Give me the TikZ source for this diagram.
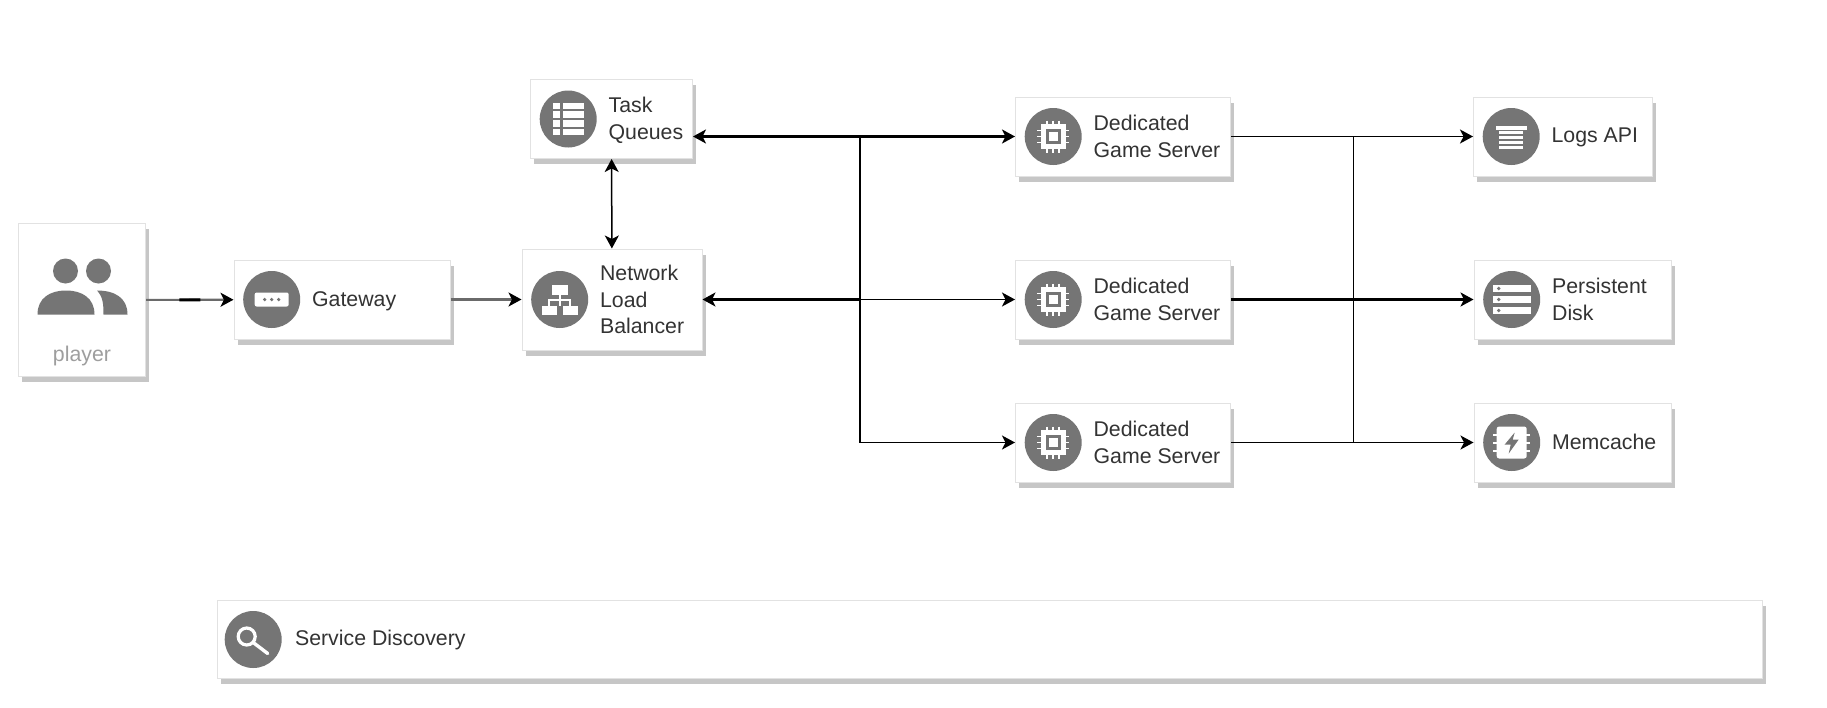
\documentclass[tikz,border=0pt]{standalone}
\usepackage{fontspec}
\setmainfont{Liberation Sans}
\usetikzlibrary{positioning, arrows.meta, shadows}

\definecolor{icongray}{HTML}{757575}
\definecolor{edgegray}{HTML}{E2E2E2}
\definecolor{shadowgray}{HTML}{C6C6C6}
\definecolor{textgray}{HTML}{333333}
\definecolor{playergray}{HTML}{9E9E9E}
\definecolor{linegray}{HTML}{6A6A6A}

\begin{document}
\begin{tikzpicture}[
    x=1pt, y=-1pt,
    box/.style={draw=edgegray, line width=1pt, fill=white, inner sep=0pt,
        drop shadow={shadow xshift=3.5pt, shadow yshift=-5.5pt, fill=shadowgray, opacity=1}},
    icon/.style={circle, fill=icongray, minimum size=57pt, inner sep=0pt},
    lbl/.style={font=\fontsize{21.3}{26.7}\selectfont, text=textgray, align=left, inner sep=0pt},
    wire/.style={line width=1.3pt},
    arrow/.style={-{Stealth[length=13pt, width=14pt, inset=3.5pt]}, line width=1.5pt},
    dblarrow/.style={{Stealth[length=13pt, width=14pt, inset=3.5pt]}-{Stealth[length=13pt, width=14pt, inset=3.5pt]}, line width=1.5pt},
    fat/.style={line width=2.6pt},
    greyline/.style={draw=linegray, -{Stealth[length=13pt, width=14pt, inset=3.5pt, black]}, line width=2.1pt},
    playerpic/.pic={
        \fill[icongray] (-16.5,-29) circle (12.5);
        \fill[icongray] (16.5,-29) circle (12.5);
        \fill[icongray] (-44.5,14.5) .. controls (-44.5,-2) and (-32,-9.5) .. (-16,-9.5)
            .. controls (0,-9.5) and (12.5,-2) .. (12.5,14.5) -- cycle;
        \fill[icongray] (15,-9.5) .. controls (33,-9.5) and (45.5,-2) .. (45.5,14.5)
            -- (21.5,14.5) .. controls (21.5,4) and (21,-3) .. (15,-9.5) -- cycle;
    },
    gatewaypic/.pic={
        \fill[white, rounded corners=2pt] (-17,-7) rectangle (17,7);
        \foreach \x in {-7,0,7} \fill[icongray] (\x,0) circle (1.8);
    },
    lbpic/.pic={
        \fill[white] (-8,-15) rectangle (8,-5);
        \fill[white] (-18,6) rectangle (-3,15);
        \fill[white] (3,6) rectangle (18,15);
        \draw[white, line width=2pt] (0,-5) -- (0,6) (-10.5,6) -- (-10.5,0) -- (10.5,0) -- (10.5,6);
    },
    queuepic/.pic={
        \foreach \y in {-13,-4.5,4.5,13} {
            \fill[white] (-15,\y-3.2) rectangle (-8.5,\y+3.2);
            \fill[white] (-5.5,\y-3.2) rectangle (16,\y+3.2);
        }
    },
    chippic/.pic={
        \foreach \t in {-6,0,6} {
            \draw[white, line width=1.5pt] (\t,-16) -- (\t,16) (-16,\t) -- (16,\t);
        }
        \fill[white] (-12.5,-12.5) rectangle (12.5,12.5);
        \fill[icongray] (-7.5,-7.5) rectangle (7.5,7.5);
        \fill[white] (-4.5,-4.5) rectangle (4.5,4.5);
    },
    logpic/.pic={
        \fill[white] (-15.5,-11) rectangle (15.5,-6.5);
        \foreach \y in {-4.5,0.5,5.5,10.5} \fill[white] (-12,\y-1.5) rectangle (12,\y+1.5);
    },
    diskpic/.pic={
        \foreach \y in {-11,0,11} {
            \fill[white] (-19,\y-3.8) rectangle (19,\y+3.8);
            \fill[icongray] (-13,\y) circle (1.8);
        }
    },
    cachepic/.pic={
        \foreach \y in {-8,0,8} \draw[white, line width=2pt] (-18.5,\y) -- (18.5,\y);
        \fill[white, rounded corners=2.5pt] (-15,-16) rectangle (15,16);
        \fill[icongray] (3,-10) -- (-7,2) -- (-1,2) -- (-3,11) -- (7,-3) -- (1,-3) -- cycle;
    },
    searchpic/.pic={
        \draw[white, line width=3.2pt] (-6.5,-3) circle (8.5);
        \draw[white, line width=3.4pt, line cap=round] (0,3) -- (14.5,14);
    },
]
\useasboundingbox (0,0) rectangle (1827,707);

% Player
\node[box, minimum width=127pt, minimum height=153pt] (pl) at (82,300) {};
\pic at (pl) {playerpic};
\node[lbl, text=playergray, above=11pt of pl.south] (pll) {player};

% Gateway
\node[box, minimum width=216pt, minimum height=79pt] (gw) at (342,299.5) {};
\node[icon, right=9.5pt of gw.west] (gwi) {};
\pic at (gwi) {gatewaypic};
\node[lbl, right=11.5pt of gwi, yshift=-2pt] (gwl) {Gateway};

% Network load balancer
\node[box, minimum width=180pt, minimum height=101pt] (lb) at (612,299.5) {};
\node[icon, right=9.5pt of lb.west] (lbi) {};
\pic at (lbi) {lbpic};
\node[lbl, right=11.5pt of lbi] (lbl1) {Network\\Load\\Balancer};

% Task queues
\node[box, minimum width=162pt, minimum height=79pt] (tq) at (611.5,119) {};
\node[icon, right=9.5pt of tq.west] (tqi) {};
\pic at (tqi) {queuepic};
\node[lbl, right=11.5pt of tqi, yshift=-1pt] (tql) {Task\\Queues};

% Game servers
\foreach \n/\y in {1/136.5, 2/299.5, 3/442.5} {
    \node[box, minimum width=215pt, minimum height=79pt] (dg\n) at (1123,\y) {};
    \node[icon, right=9.5pt of dg\n.west] (dgi\n) {};
    \pic at (dgi\n) {chippic};
    \node[lbl, right=11.5pt of dgi\n] (dgl\n) {Dedicated\\Game Server};
}

% Storage
\node[box, minimum width=179pt, minimum height=79pt] (lg) at (1563,136.5) {};
\node[icon, right=9.5pt of lg.west] (lgi) {};
\pic at (lgi) {logpic};
\node[lbl, right=11.5pt of lgi, yshift=-1pt] (lgl) {Logs API};

\node[box, minimum width=197pt, minimum height=79pt] (pd) at (1572.5,299.5) {};
\node[icon, right=9.5pt of pd.west] (pdi) {};
\pic at (pdi) {diskpic};
\node[lbl, right=11.5pt of pdi] (pdl) {Persistent\\Disk};

\node[box, minimum width=197pt, minimum height=79pt] (mc) at (1572.5,442.5) {};
\node[icon, right=9.5pt of mc.west] (mci) {};
\pic at (mci) {cachepic};
\node[lbl, right=11.5pt of mci, yshift=1pt] (mcl) {Memcache};

% Service discovery
\node[box, minimum width=1545pt, minimum height=78pt] (sd) at (989.5,639.5) {};
\node[icon, right=8pt of sd.west] (sdi) {};
\pic at (sdi) {searchpic};
\node[lbl, right=13pt of sdi] (sdl) {Service Discovery};

% Front of the stack
\draw[greyline] (pl) -- coordinate[pos=.38] (pla) coordinate[pos=.62] (plb) (gw);
\draw[line width=3pt, black] (pla) -- (plb);
\draw[greyline] (gw) -- (lb);
\draw[dblarrow] (tq) -- (lb);

% Left bus
\coordinate (lbus1) at (860,136.5);
\coordinate (lbus2) at (860,299.5);
\draw[dblarrow, fat] (tq.east |- dg1) -- (dg1);
\draw[arrow] (lbus1) |- (dg3);
\draw[arrow] (lbus2) -- (dg2);
\draw[{Stealth[length=13pt, width=14pt, inset=3.5pt]}-, fat] (lb) -- (lbus2);

% Right bus
\coordinate (rbus1) at (1353.5,136.5);
\draw[arrow] (dg1) -- (lg);
\draw[arrow, fat] (dg2) -- (pd);
\draw[arrow] (dg3) -- (mc);
\draw[wire] (rbus1) -- (rbus1 |- mc);

\end{tikzpicture}
\end{document}
